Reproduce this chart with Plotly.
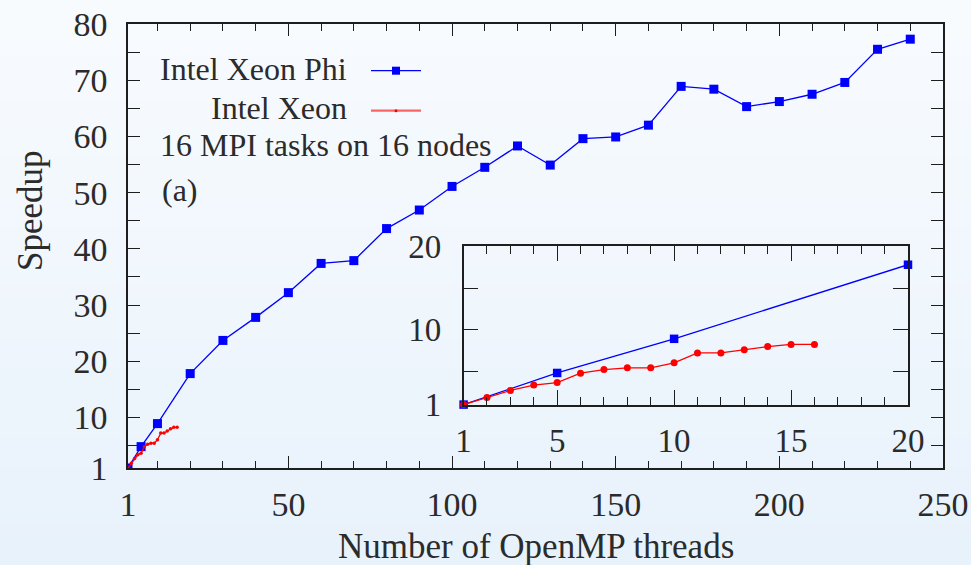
import plotly.graph_objects as go

# ---------------- data ----------------
phi_threads = [1, 5, 10, 20, 30, 40, 50, 60, 70, 80, 90, 100, 110, 120, 130,
               140, 150, 160, 170, 180, 190, 200, 210, 220, 230, 240]
phi_speedup = [1, 4.8, 8.9, 17.8, 23.7, 27.8, 32.2, 37.4, 37.9, 43.6, 46.9, 51.1,
               54.5, 58.3, 54.9, 59.6, 59.9, 62.0, 68.9, 68.4, 65.3, 66.2, 67.5,
               69.6, 75.5, 77.3]
xeon_threads = list(range(1, 17))
xeon_speedup = [1, 1.85, 2.7, 3.34, 3.64, 4.78, 5.21, 5.42, 5.42, 6.02, 7.21,
                7.21, 7.59, 7.97, 8.23, 8.23]

inset_phi_threads = [t for t in phi_threads if t <= 20]
inset_phi_speedup = phi_speedup[:len(inset_phi_threads)]

main_xticks = [1, 50, 100, 150, 200, 250]
main_yticks = [1, 10, 20, 30, 40, 50, 60, 70, 80]
inset_xticks = [1, 5, 10, 15, 20]
inset_yticks = [1, 5, 10, 15, 20]
inset_ylabels = ["1", "", "10", "", "20"]

# ---------------- geometry ----------------
W, H = 971, 565
L, R, T, B = 128, 943, 24, 468
PW, PH = R - L, B - T

def px(x):
    return (x - L) / PW

def py(y):
    return (B - y) / PH

FONT = "Liberation Serif"
TXT = "#2b2b2b"
AX = "#1e1e1e"
BLUE = "#0000ff"
RED = "#ff0000"

fig = go.Figure()

fig.add_trace(go.Scatter(x=phi_threads, y=phi_speedup, mode="lines+markers",
                         line=dict(color=BLUE, width=1.3),
                         marker=dict(symbol="square", size=9, color=BLUE),
                         xaxis="x", yaxis="y", showlegend=False))
fig.add_trace(go.Scatter(x=xeon_threads, y=xeon_speedup, mode="lines+markers",
                         line=dict(color=RED, width=1.3),
                         marker=dict(symbol="circle", size=3.5, color=RED),
                         xaxis="x", yaxis="y", showlegend=False))
fig.add_trace(go.Scatter(x=inset_phi_threads, y=inset_phi_speedup, mode="lines+markers",
                         line=dict(color=BLUE, width=1.3),
                         marker=dict(symbol="square", size=8.5, color=BLUE),
                         xaxis="x2", yaxis="y2", showlegend=False, cliponaxis=False))
fig.add_trace(go.Scatter(x=xeon_threads, y=xeon_speedup, mode="lines+markers",
                         line=dict(color=RED, width=1.3),
                         marker=dict(symbol="circle", size=7, color=RED),
                         xaxis="x2", yaxis="y2", showlegend=False, cliponaxis=False))

# background gradient
shapes = []
N = 40
c0 = (248, 251, 254)
c1 = (232, 242, 251)
for i in range(N):
    f = i / (N - 1)
    c = tuple(round(c0[k] + (c1[k] - c0[k]) * f) for k in range(3))
    y_top = i * H / N
    y_bot = (i + 1) * H / N + 1
    shapes.append(dict(type="rect", xref="paper", yref="paper",
                       x0=px(0), x1=px(W), y0=py(y_bot), y1=py(y_top),
                       fillcolor="rgb(%d,%d,%d)" % c, line=dict(width=0), layer="below"))

# manual legend keys
shapes.append(dict(type="line", xref="paper", yref="paper", x0=px(371), x1=px(421),
                   y0=py(70.7), y1=py(70.7), line=dict(color=BLUE, width=1.3)))
shapes.append(dict(type="rect", xref="paper", yref="paper", x0=px(392), x1=px(400),
                   y0=py(74.7), y1=py(66.7), fillcolor=BLUE, line=dict(width=0)))
shapes.append(dict(type="line", xref="paper", yref="paper", x0=px(371), x1=px(421),
                   y0=py(110.7), y1=py(110.7), line=dict(color="rgba(255,0,0,0.6)", width=2.2)))
shapes.append(dict(type="circle", xref="paper", yref="paper", x0=px(394.5), x1=px(397.5),
                   y0=py(112.2), y1=py(109.2), fillcolor=RED, line=dict(width=0)))

annotations = [
    dict(text="Intel Xeon Phi", x=px(349), y=py(69), xanchor="right", yanchor="middle", fs=32),
    dict(text="Intel Xeon", x=px(349), y=py(108), xanchor="right", yanchor="middle", fs=32),
    dict(text="16 MPI tasks on 16 nodes", x=px(158), y=py(145), xanchor="left", yanchor="middle", fs=32),
    dict(text="(a)", x=px(160), y=py(190), xanchor="left", yanchor="middle", fs=32),
    dict(text="Speedup", x=px(30), y=py(211), xanchor="center", yanchor="middle", textangle=-90, fs=35),
    dict(text="Number of OpenMP threads", x=px(536), y=py(546), xanchor="center", yanchor="middle", fs=35),
]
for a in annotations:
    size = a.pop("fs")
    a.update(xref="paper", yref="paper", showarrow=False,
             font=dict(family=FONT, size=size, color=TXT))

def axis_common(size):
    return dict(showgrid=False, zeroline=False, showline=True, linecolor=AX,
                linewidth=1.5, mirror="ticks", ticks="inside", tickcolor=AX,
                tickwidth=1.2, automargin=False,
                tickfont=dict(family=FONT, size=size, color=TXT))

fig.update_layout(
    width=W, height=H,
    margin=dict(l=L, r=W - R, t=T, b=H - B, autoexpand=False),
    paper_bgcolor="rgb(240,247,252)",
    plot_bgcolor="rgba(0,0,0,0)",
    showlegend=False,
    shapes=shapes,
    annotations=annotations,
    xaxis=dict(**axis_common(34), range=[1, 250], tickmode="array", tickvals=main_xticks,
               ticklen=12, ticklabelstandoff=5,
               minor=dict(tickmode="linear", tick0=0, dtick=10, ticklen=7,
                          tickcolor=AX, tickwidth=1.2, ticks="inside")),
    yaxis=dict(**axis_common(34), range=[1, 80], tickmode="array", tickvals=main_yticks,
               ticklen=12, ticklabelstandoff=12,
               minor=dict(tickmode="linear", tick0=0, dtick=5, ticklen=12,
                          tickcolor=AX, tickwidth=1.2, ticks="inside")),
    xaxis2=dict(**axis_common(33), domain=[px(463.6), px(908)], anchor="y2",
                range=[1, 20], tickmode="array", tickvals=inset_xticks,
                ticklen=15, ticklabelstandoff=6,
                minor=dict(tickmode="linear", tick0=0, dtick=1, ticklen=8,
                           tickcolor=AX, tickwidth=1.2, ticks="inside")),
    yaxis2=dict(**axis_common(33), domain=[py(404.6), py(246.4)], anchor="x2",
                range=[1, 20], tickmode="array", tickvals=inset_yticks,
                ticktext=inset_ylabels, ticklen=15, ticklabelstandoff=14),
)

fig.write_html("out.html")
